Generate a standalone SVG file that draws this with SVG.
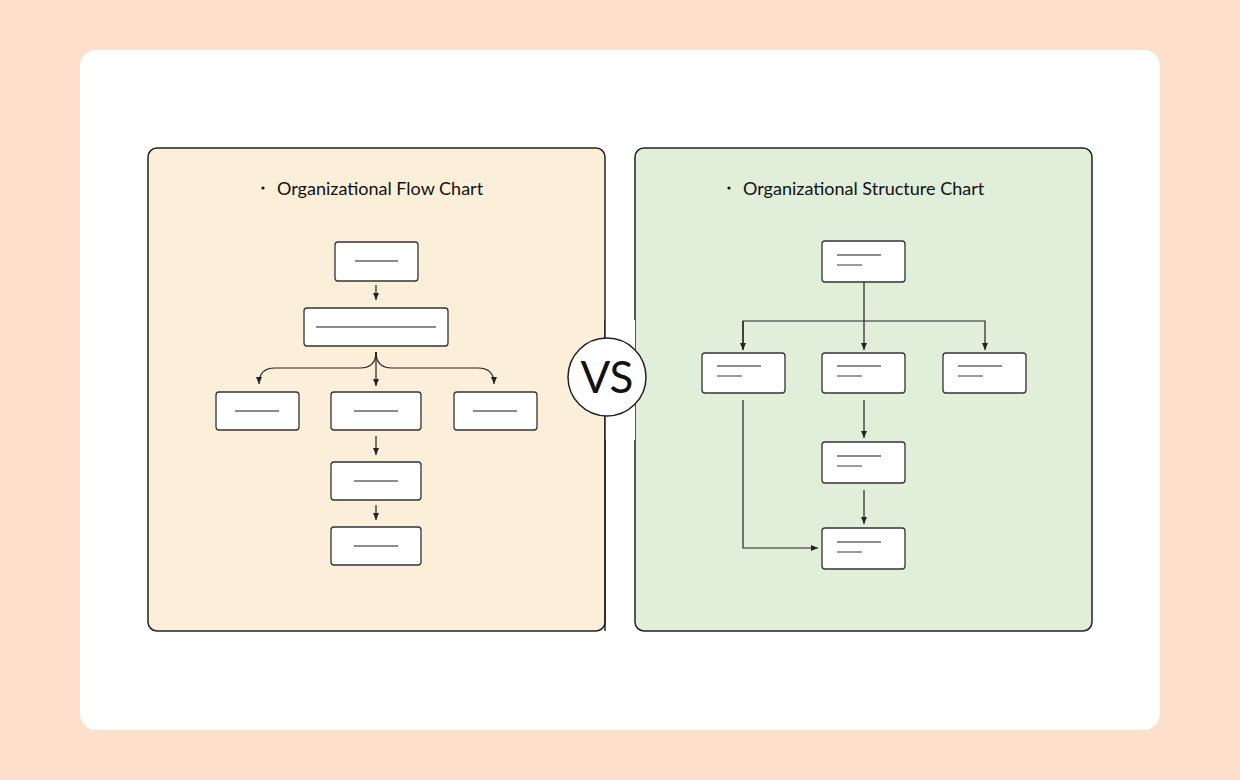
<svg xmlns="http://www.w3.org/2000/svg" width="1240" height="780" viewBox="0 0 1240 780">
<style>
.n{fill:#fff;stroke:#333;stroke-width:1.3}
.t{stroke:#666;stroke-width:1.3}
.c{fill:none;stroke:#222;stroke-width:1.2}
.h{font-family:"Lato","Noto Sans",sans-serif;font-size:18px;fill:#111}
</style>
<defs><marker id="a" viewBox="0 0 8 8" refX="7" refY="4" markerWidth="7" markerHeight="7" orient="auto"><path d="M0,1 L7,4 L0,7 z" fill="#222"/></marker></defs>
<rect width="1240" height="780" fill="#fedfcb"/>
<rect x="80" y="50" width="1080" height="680" rx="16" fill="#fff"/>
<rect x="148" y="148" width="457" height="483" rx="9" fill="#fcefd9" stroke="#222" stroke-width="1.5"/>
<rect x="635" y="148" width="457" height="483" rx="9" fill="#e1eed9" stroke="#222" stroke-width="1.5"/>
<circle cx="263" cy="188" r="1.6" fill="#111"/><text class="h" x="277" y="195">Organizational Flow Chart</text>
<circle cx="729" cy="188" r="1.6" fill="#111"/><text class="h" x="743" y="195">Organizational Structure Chart</text>
<g id="connectors">
<path class="c" d="M376,285 V300" marker-end="url(#a)"/>
<path class="c" d="M376,352 V386" marker-end="url(#a)"/>
<path class="c" d="M376,352 Q376,368 360,368 H275 Q259,368 259,384" marker-end="url(#a)"/>
<path class="c" d="M376,352 Q376,368 392,368 H478 Q494,368 494,384" marker-end="url(#a)"/>
<path class="c" d="M376,436 V455" marker-end="url(#a)"/>
<path class="c" d="M376,505 V520" marker-end="url(#a)"/>
<path class="c" d="M864,282 V350" marker-end="url(#a)"/>
<path class="c" d="M743,350 V321 H985 V350" marker-end="url(#a)"/>
<path class="c" d="M743,321 V350" marker-end="url(#a)"/>
<path class="c" d="M743,400 V548 H818" marker-end="url(#a)"/>
<path class="c" d="M864,400 V438" marker-end="url(#a)"/>
<path class="c" d="M864,490 V524" marker-end="url(#a)"/>
</g>
<g id="f1"><rect class="n" x="335" y="242" width="83" height="39" rx="3"/><line class="t" x1="355" y1="261" x2="398" y2="261"/></g>
<g id="f2"><rect class="n" x="304" y="308" width="144" height="38" rx="3"/><line class="t" x1="316" y1="327" x2="436" y2="327"/></g>
<g id="f3"><rect class="n" x="216" y="392" width="83" height="38" rx="3"/><line class="t" x1="235" y1="411" x2="279" y2="411"/></g>
<g id="f4"><rect class="n" x="331" y="392" width="90" height="38" rx="3"/><line class="t" x1="354" y1="411" x2="398" y2="411"/></g>
<g id="f5"><rect class="n" x="454" y="392" width="83" height="38" rx="3"/><line class="t" x1="473" y1="411" x2="517" y2="411"/></g>
<g id="f6"><rect class="n" x="331" y="462" width="90" height="38" rx="3"/><line class="t" x1="354" y1="481" x2="398" y2="481"/></g>
<g id="f7"><rect class="n" x="331" y="527" width="90" height="38" rx="3"/><line class="t" x1="354" y1="546" x2="398" y2="546"/></g>
<g id="s1"><rect class="n" x="822" y="241" width="83" height="41" rx="3"/><line class="t" x1="837" y1="255" x2="881" y2="255"/><line class="t" x1="837" y1="265" x2="862" y2="265"/></g>
<g id="s2"><rect class="n" x="702" y="353" width="83" height="40" rx="3"/><line class="t" x1="717" y1="366" x2="761" y2="366"/><line class="t" x1="717" y1="376" x2="742" y2="376"/></g>
<g id="s3"><rect class="n" x="822" y="353" width="83" height="40" rx="3"/><line class="t" x1="837" y1="366" x2="881" y2="366"/><line class="t" x1="837" y1="376" x2="862" y2="376"/></g>
<g id="s4"><rect class="n" x="943" y="353" width="83" height="40" rx="3"/><line class="t" x1="958" y1="366" x2="1002" y2="366"/><line class="t" x1="958" y1="376" x2="983" y2="376"/></g>
<g id="s5"><rect class="n" x="822" y="442" width="83" height="41" rx="3"/><line class="t" x1="837" y1="456" x2="881" y2="456"/><line class="t" x1="837" y1="466" x2="862" y2="466"/></g>
<g id="s6"><rect class="n" x="822" y="528" width="83" height="41" rx="3"/><line class="t" x1="837" y1="542" x2="881" y2="542"/><line class="t" x1="837" y1="552" x2="862" y2="552" stroke="#222"/></g>
<g id="vs"><rect x="605" y="320" width="30" height="120" fill="#fff"/><line x1="605" y1="320" x2="605" y2="631" stroke="#222" stroke-width="1.5"/><circle cx="607" cy="377" r="39" fill="#fff" stroke="#222" stroke-width="1.5"/><text x="607" y="393" text-anchor="middle" font-family="Lato,sans-serif" font-size="44" fill="#111">VS</text></g>
</svg>
